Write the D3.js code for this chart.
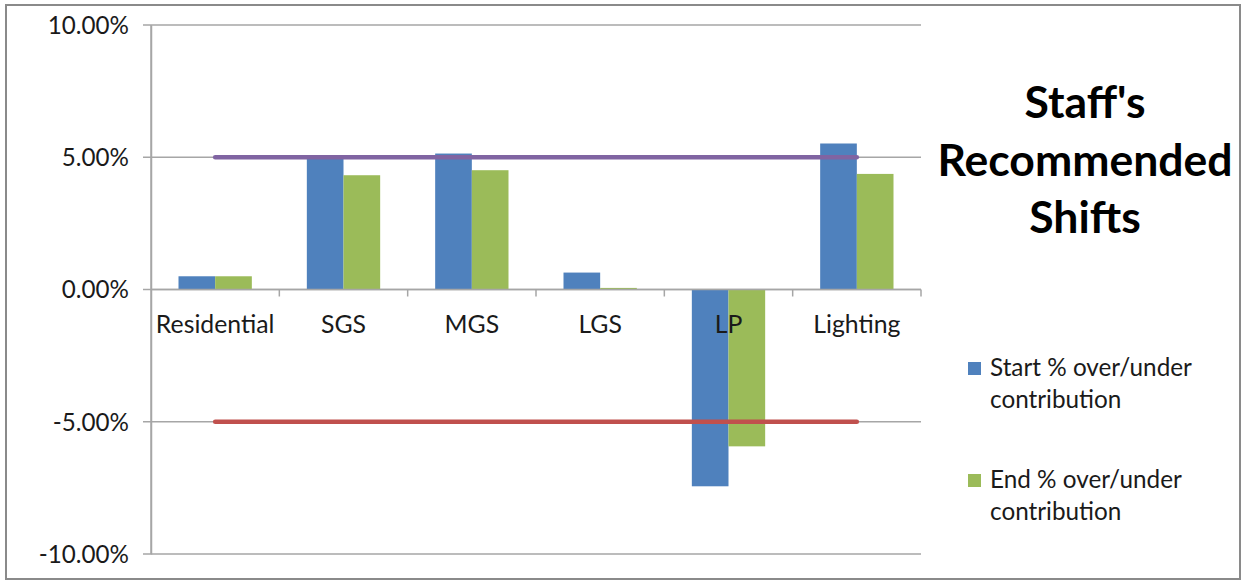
<!DOCTYPE html>
<html><head><meta charset="utf-8">
<script src="https://cdn.jsdelivr.net/npm/d3@7"></script>
<style>body{margin:0;background:#fff}svg{display:block}</style>
</head><body>
<script>
const categories = ["Residential","SGS","MGS","LGS","LP","Lighting"];
const startPct = [0.50, 4.97, 5.14, 0.64, -7.44, 5.52];
const endPct = [0.50, 4.32, 4.51, 0.06, -5.93, 4.37];
const upperLimit = [5,5,5,5,5,5];
const lowerLimit = [-5,-5,-5,-5,-5,-5];
const yTicks = [-10,-5,0,5,10];
const seriesNames = ["Start % over/under contribution","End % over/under contribution"];
const titleLines = ["Staff's","Recommended","Shifts"];

const W=1243,H=580;
const svg=d3.select("body").append("svg").attr("width",W).attr("height",H);
svg.append("rect").attr("x",6).attr("y",5).attr("width",1234).attr("height",574)
  .attr("fill","#fff").attr("stroke","#8a8a8a").attr("stroke-width",2);

const pL=151,pR=921,pT=25,pB=554;
const bandStep=(pR-pL)/categories.length;
const groupW=bandStep/1.75;
const xc=d=>pL+bandStep*(categories.indexOf(d)+0.5);
const xs=d3.scaleBand().domain([0,1]).range([-groupW/2,groupW/2]);
const y=d3.scaleLinear().domain([-10,10]).range([pB,pT]);
const font="Lato, 'Open Sans', sans-serif";

// gridlines
svg.append("g").selectAll("line").data(yTicks).join("line")
  .attr("x1",pL-8).attr("x2",pR).attr("y1",d=>y(d)).attr("y2",d=>y(d))
  .attr("stroke","#a6a6a6").attr("stroke-width",1.5);
// y axis
const yAxis=d3.axisLeft(y).tickValues(yTicks).tickSize(0).tickPadding(22).tickFormat(d=>d.toFixed(2)+"%");
const gy=svg.append("g").attr("transform",`translate(${pL},0)`).call(yAxis);
gy.select(".domain").attr("stroke","#a6a6a6").attr("stroke-width",1.5);
gy.selectAll("text").attr("font-family",font).attr("font-size",24.2).attr("fill","#1a1a1a").attr("dy","0.35em");

// bars
const series=[startPct,endPct];
const colors=["#4F81BD","#9BBB59"];
series.forEach((vals,i)=>{
  svg.append("g").selectAll("rect").data(categories).join("rect")
    .attr("x",d=>xc(d)+xs(i)).attr("width",xs.bandwidth())
    .attr("y",(d,j)=>y(Math.max(0,vals[j]))).attr("height",(d,j)=>Math.abs(y(vals[j])-y(0)))
    .attr("fill",colors[i]);
});

// x axis at 0
svg.append("line").attr("x1",pL).attr("x2",pR).attr("y1",y(0)).attr("y2",y(0)).attr("stroke","#a6a6a6").attr("stroke-width",1.5);
svg.append("g").selectAll("line").data(d3.range(1,categories.length+1)).join("line")
  .attr("x1",d=>pL+d*bandStep).attr("x2",d=>pL+d*bandStep).attr("y1",y(0)).attr("y2",y(0)+7)
  .attr("stroke","#a6a6a6").attr("stroke-width",1.5);
svg.append("g").selectAll("text").data(categories).join("text")
  .attr("x",d=>xc(d)).attr("y",333).attr("text-anchor","middle")
  .attr("font-family",font).attr("font-size",24.8).attr("fill","#1a1a1a").text(d=>d);

// limit lines
const line=d3.line().x((d,i)=>xc(categories[i])).y(d=>y(d));
svg.append("path").attr("d",line(upperLimit)).attr("fill","none").attr("stroke","#8064A2").attr("stroke-width",4.5).attr("stroke-linecap","round");
svg.append("path").attr("d",line(lowerLimit)).attr("fill","none").attr("stroke","#C0504D").attr("stroke-width",4.5).attr("stroke-linecap","round");

// y axis line on top
svg.append("line").attr("x1",pL).attr("x2",pL).attr("y1",pT).attr("y2",pB).attr("stroke","#a6a6a6").attr("stroke-width",1.5);

// title
svg.append("g").selectAll("text").data(titleLines).join("text")
  .attr("x",1085).attr("y",(d,i)=>118+i*57.5).attr("text-anchor","middle")
  .attr("font-family",font).attr("font-weight","bold").attr("font-size",44.5).attr("fill","#000").text(d=>d);

// legend
const legLines=[["Start % over/under","contribution"],["End % over/under","contribution"]];
seriesNames.forEach((n,i)=>{
  const by=376+i*112;
  svg.append("rect").attr("x",968).attr("y",by-14).attr("width",13).attr("height",13).attr("fill",colors[i]);
  const t=svg.append("text").attr("font-family",font).attr("font-size",24.3).attr("fill","#1a1a1a");
  legLines[i].forEach((l,k)=>t.append("tspan").attr("x",990).attr("y",by+k*32).text(l));
});
</script>
</body></html>
